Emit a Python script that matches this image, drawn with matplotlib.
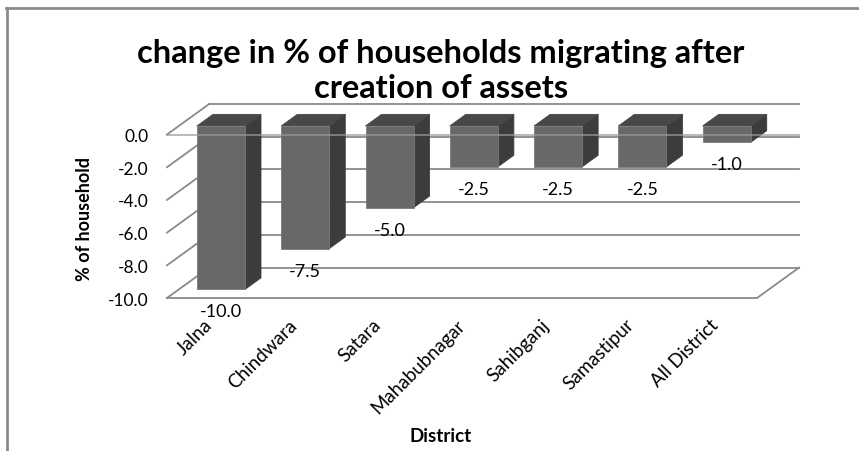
import matplotlib
matplotlib.use("Agg")
import matplotlib.pyplot as plt
from matplotlib.patches import Polygon
from matplotlib.lines import Line2D
from matplotlib.transforms import ScaledTranslation

# Data
districts = ["Jalna", "Chindwara", "Satara", "Mahabubnagar", "Sahibganj",
             "Samastipur", "All District"]
change_pct = [-10.0, -7.5, -5.0, -2.5, -2.5, -2.5, -1.0]
y_ticks = [0, -2, -4, -6, -8, -10]

title_lines = ["change in % of households migrating after", "creation of assets"]
x_label = "District"
y_label = "% of household"

# Styling
FONT = "Lato"
W, H = 859, 452
GRID = "#8a8a8a"
FRONT = "#686868"
TOP = "#484848"
SIDE = "#3c3c3c"

# Pseudo-3D depth vector (data units) and bar placement within the depth
DX, DY = 0.5, 1.865
D_FRONT, D_BACK = 0.28, 0.66
BAR_W = 0.57

fig = plt.figure(figsize=(W / 100, H / 100), dpi=100)

# Axes placed so that the front plane spans the plot area
px_x, px_y = 84.29, 16.35
x0_px, y0_px = 167.0, 135.5
xlim = (-0.1, 7.6)
ylim = (-10.6, 2.4)
left = x0_px + px_x * xlim[0]
right = x0_px + px_x * xlim[1]
top = y0_px - px_y * ylim[1]
bottom = y0_px - px_y * ylim[0]
ax = fig.add_axes([left / W, 1 - bottom / H, (right - left) / W, (bottom - top) / H])
ax.set_xlim(*xlim)
ax.set_ylim(*ylim)
for s in ax.spines.values():
    s.set_visible(False)

n = len(districts)
ymin = min(y_ticks)

# Walls: left-wall diagonals and back-wall horizontal gridlines
for v in y_ticks:
    ax.plot([0, DX], [v, v + DY], color=GRID, lw=1.3, zorder=1, clip_on=False)
    ax.plot([DX, n + DX], [v + DY, v + DY], color=GRID, lw=1.3, zorder=1, clip_on=False)

# Floor outline
ax.plot([0, n, n + DX], [ymin, ymin, ymin + DY], color=GRID, lw=1.3, zorder=1, clip_on=False)

# Bars
for i, v in enumerate(change_pct):
    c = i + 0.5
    xl = c - BAR_W / 2 + D_FRONT * DX
    xr = c + BAR_W / 2 + D_FRONT * DX
    yt = 0 + D_FRONT * DY
    yb = v + D_FRONT * DY
    ddx = (D_BACK - D_FRONT) * DX
    ddy = (D_BACK - D_FRONT) * DY
    front = Polygon([[xl, yb], [xr, yb], [xr, yt], [xl, yt]], closed=True,
                    facecolor=FRONT, edgecolor="#7a7a7a", lw=0.6, zorder=3)
    side = Polygon([[xr, yb], [xr + ddx, yb + ddy], [xr + ddx, yt + ddy], [xr, yt]],
                   closed=True, facecolor=SIDE, edgecolor=SIDE, lw=0.6, zorder=3)
    topf = Polygon([[xl, yt], [xr, yt], [xr + ddx, yt + ddy], [xl + ddx, yt + ddy]],
                   closed=True, facecolor=TOP, edgecolor=TOP, lw=0.6, zorder=3)
    for p in (side, topf, front):
        p.set_clip_on(False)
        ax.add_patch(p)
    ax.annotate(f"{v:.1f}", xy=(c + D_FRONT * DX, yb), xytext=(0, -22),
                textcoords="offset pixels", ha="center", va="center",
                fontsize=13, family=FONT, zorder=5)

# Zero-plane edge running across the bars
ax.plot([0, n + DX], [-0.06, -0.06], color="#9a9a9a", lw=1.3, alpha=0.75,
        zorder=4, clip_on=False)

# Ticks
ax.set_yticks(y_ticks)
ax.set_yticklabels([f"{v:.1f}" for v in y_ticks], fontsize=12.5, family=FONT)
ax.tick_params(axis="y", length=0, pad=7.5)
ax.set_xticks([i + 0.5 for i in range(n)])
ax.set_xticklabels(districts, rotation=45, ha="right", va="center",
                   rotation_mode="anchor", fontsize=13.5, family=FONT)
ax.tick_params(axis="x", length=0, pad=10)
shift = ScaledTranslation(0.5 / 100, 0, fig.dpi_scale_trans)
for lbl in ax.get_xticklabels():
    lbl.set_transform(lbl.get_transform() + shift)

# Titles
for txt, ypx in zip(title_lines, [53, 88]):
    fig.text(441 / W, 1 - ypx / H, txt, ha="center", va="center", fontsize=23.5,
             fontweight="bold", family=FONT)
fig.text(84 / W, 1 - 219 / H, y_label, ha="center", va="center", rotation=90,
         fontsize=13, fontweight="bold", family=FONT)
fig.text(441 / W, 1 - 437 / H, x_label, ha="center", va="center",
         fontsize=13.5, fontweight="bold", family=FONT)

# Chart-area border (top and left edges)
fig.add_artist(Line2D([6 / W, 1], [1 - 9 / H, 1 - 9 / H], transform=fig.transFigure,
                      color="#8c8c8c", lw=2))
fig.add_artist(Line2D([7 / W, 7 / W], [0, 1 - 9 / H], transform=fig.transFigure,
                      color="#8c8c8c", lw=2))

fig.savefig("out.png", dpi=100)
